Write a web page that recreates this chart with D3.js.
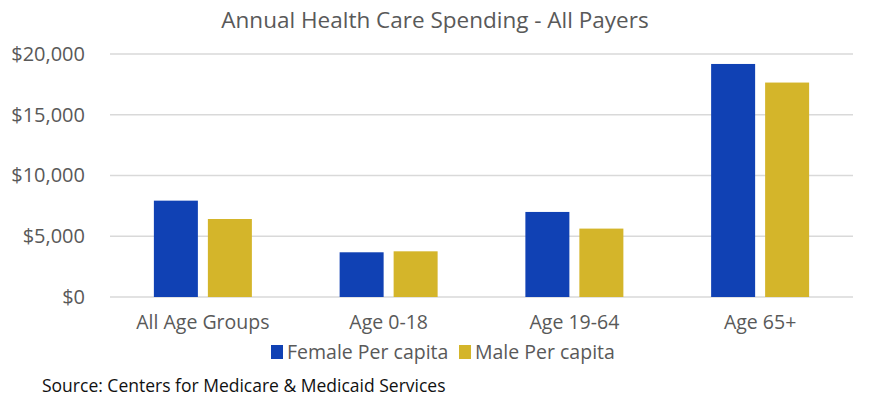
<!DOCTYPE html>
<html>
<head>
  <meta content="text/html;charset=utf-8" http-equiv="Content-Type">
  <title>Annual Health Care Spending - All Payers</title>
  <style type="text/css">
    body { margin: 0; background: #fff; }
    #chart text { font-family: "Open Sans", sans-serif; fill: #595959; }
  </style>
  <script src="https://cdnjs.cloudflare.com/ajax/libs/d3/7.6.1/d3.min.js"></script>
  <script>
    var categories = ['All Age Groups', 'Age 0-18', 'Age 19-64', 'Age 65+'];
    var seriesNames = ['Female Per capita', 'Male Per capita'];
    var female = [7930, 3680, 7000, 19180];
    var male = [6420, 3760, 5630, 17650];
    var yTicks = [0, 5000, 10000, 15000, 20000];
    var colors = ['#1041b4', '#d4b52a'];

    function main() {
      var width = 870, height = 406;
      var left = 110, right = 853, top = 54, bottom = 297;

      var svg = d3.select('#chart').attr('width', width).attr('height', height);

      var y = d3.scaleLinear().domain([0, 20000]).range([bottom, top]);
      var x0 = d3.scaleBand().domain(categories).range([left, right])
                 .paddingInner(0.4724).paddingOuter(0.2362);
      var x1 = d3.scaleBand().domain(seriesNames).range([0, x0.bandwidth()])
                 .paddingInner(0.185);

      // gridlines
      svg.append('g').selectAll('line').data(yTicks).enter().append('line')
        .attr('x1', left).attr('x2', right)
        .attr('y1', function(d) { return y(d); })
        .attr('y2', function(d) { return y(d); })
        .attr('stroke', '#d9d9d9').attr('stroke-width', 1.5);

      // y axis labels
      var yAxis = d3.axisLeft(y).tickValues(yTicks).tickSize(0).tickPadding(0)
                    .tickFormat(function(d) { return '$' + d3.format(',')(d); });
      var ya = svg.append('g').attr('transform', 'translate(85,0)').call(yAxis);
      ya.select('.domain').remove();
      ya.selectAll('text').style('font-size', '20px').attr('fill', '#595959');

      // bars
      var rows = categories.map(function(c, i) {
        return {cat: c, vals: [female[i], male[i]]};
      });
      var grp = svg.append('g').selectAll('g').data(rows).enter().append('g')
        .attr('transform', function(d) { return 'translate(' + x0(d.cat) + ',0)'; });
      grp.selectAll('rect').data(function(d) {
          return d.vals.map(function(v, j) { return {s: seriesNames[j], v: v, j: j}; });
        }).enter().append('rect')
        .attr('x', function(d) { return x1(d.s); })
        .attr('y', function(d) { return y(d.v); })
        .attr('width', x1.bandwidth())
        .attr('height', function(d) { return bottom - y(d.v); })
        .attr('fill', function(d) { return colors[d.j]; });

      // x axis labels
      var xAxis = d3.axisBottom(x0).tickSize(0).tickPadding(0);
      var xa = svg.append('g').attr('transform', 'translate(0,' + 315 + ')').call(xAxis);
      xa.select('.domain').remove();
      xa.selectAll('text').style('font-size', '19.5px').attr('fill', '#595959');

      // title
      svg.append('text').attr('x', 435).attr('y', 28).attr('text-anchor', 'middle')
        .style('font-size', '22.5px').text('Annual Health Care Spending - All Payers');

      // legend
      var legX = [271, 459];
      var leg = svg.append('g').selectAll('g').data(seriesNames).enter().append('g')
        .attr('transform', function(d, i) { return 'translate(' + legX[i] + ',345)'; });
      leg.append('rect').attr('width', 12).attr('height', 14)
        .attr('fill', function(d, i) { return colors[i]; });
      leg.append('text').attr('x', 16).attr('y', 14).style('font-size', '19.5px')
        .text(function(d) { return d; });

      // source
      svg.append('text').attr('x', 42).attr('y', 392).style('font-size', '17.5px')
        .style('fill', '#111')
        .text('Source: Centers for Medicare & Medicaid Services');
    }
  </script>
</head>
<body onload='main()'>
  <svg id="chart"></svg>
</body>
</html>
